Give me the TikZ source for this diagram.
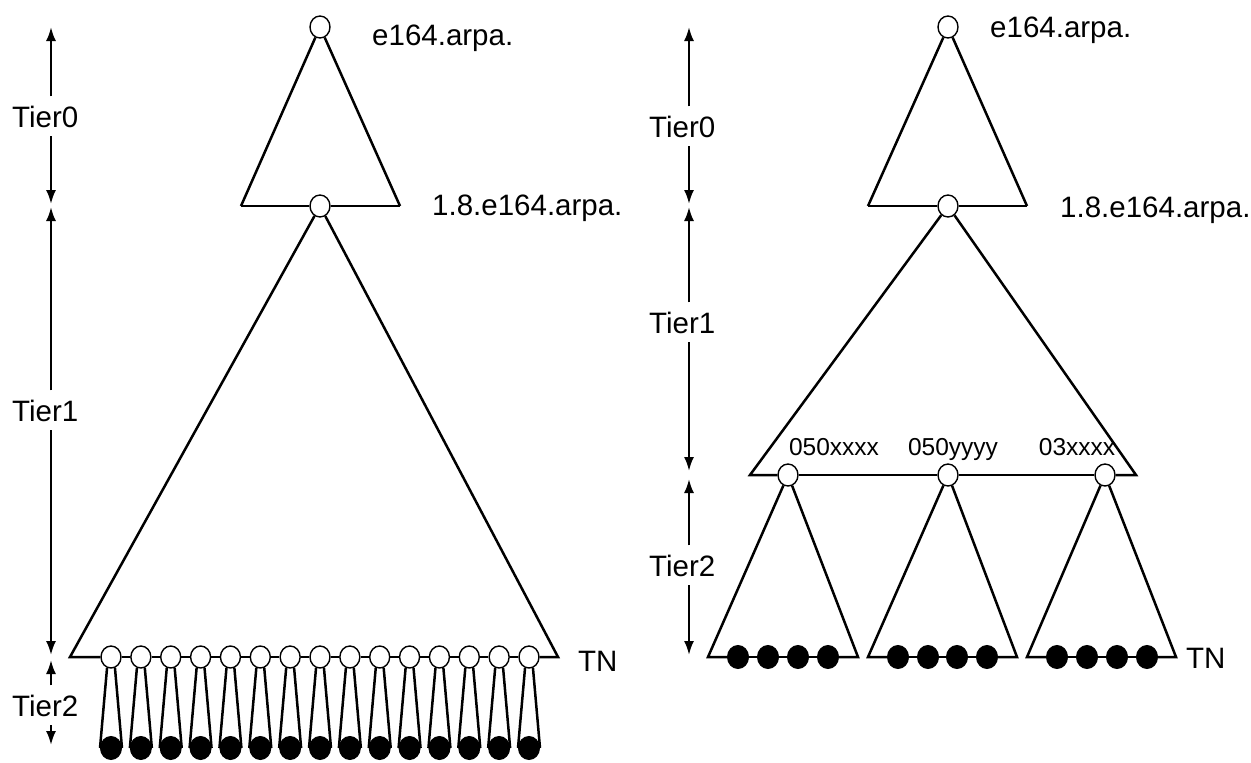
\documentclass[tikz,border=0pt]{standalone}
\usepackage{fontspec}
\setmainfont{Liberation Sans}
\usetikzlibrary{shapes.geometric,arrows.meta}
\begin{document}
\begin{tikzpicture}[x=1pt,y=-1pt,
  tri/.style={line width=2.5pt, line join=miter},
  onode/.style={ellipse, draw, line width=1.4pt, fill=white, minimum width=20pt, minimum height=22pt, inner sep=0pt},
  fnode/.style={ellipse, draw, line width=1pt, fill=black, minimum width=21pt, minimum height=23pt, inner sep=0pt},
  lbl/.style={inner sep=0pt, anchor=base west, font=\fontsize{29.5}{34}\selectfont},
  slbl/.style={inner sep=0pt, anchor=base, font=\fontsize{24.5}{28}\selectfont},
  tier/.style={inner sep=0pt, anchor=base west, font=\fontsize{29.5}{34}\selectfont},
  arr/.style={line width=2.2pt, -{Latex[length=14pt,width=10pt]}, shorten <=9pt},
]
\useasboundingbox (0,0) rectangle (1251,763);

% ================= LEFT TREE =================
\node[onode] (L0) at (320,27) {};
\node[onode] (L1) at (320,206) {};
\coordinate (L0bl) at (241,206);
\coordinate (L0br) at (400,206);
\draw[tri] (L0bl) -- (L0) -- (L0br);
\draw[tri] (L0bl) -- (L1) -- (L0br);

\foreach \i in {1,...,15} {
  \pgfmathsetmacro{\xx}{111+29.857*(\i-1)}
  \node[onode] (o\i) at (\xx,657) {};
  \node[fnode] (f\i) at (\xx,748) {};
  \draw[tri] (o\i.250) -- (f\i.west);
  \draw[tri] (o\i.290) -- (f\i.east);
}
\coordinate (L1bl) at (70,657);
\coordinate (L1br) at (558,657);
\draw[tri] (o1) -- (L1bl) -- (L1) -- (L1br) -- (o15);
\foreach \i [evaluate=\i as \j using int(\i+1)] in {1,...,14} {
  \draw[tri] (o\i) -- (o\j);
}

\node[lbl] (Le164) at (372,45) {e164.arpa.};
\node[lbl] (L18) at (432,215) {1.8.e164.arpa.};
\node[lbl] (LTN) at (578,671) {TN};

% left tier arrows
\node[tier] (LT0) at (12,127) {Tier0};
\node[tier] (LT1) at (12,421) {Tier1};
\node[tier] (LT2) at (12,716) {Tier2};
\coordinate (La0) at (51,27);
\coordinate (La1) at (51,204);
\coordinate (La2) at (51,207);
\coordinate (La3) at (51,655);
\coordinate (La4) at (51,660);
\coordinate (La5) at (51,745);
\draw[arr] (LT0.north -| La0) -- (La0);
\draw[arr] (LT0.south -| La1) -- (La1);
\draw[arr] (LT1.north -| La2) -- (La2);
\draw[arr] (LT1.south -| La3) -- (La3);
\draw[arr] (LT2.north -| La4) -- (La4);
\draw[arr] (LT2.south -| La5) -- (La5);

% ================= RIGHT TREE =================
\node[onode] (R0) at (948,27) {};
\node[onode] (R1) at (948,206) {};
\coordinate (R0bl) at (868,206);
\coordinate (R0br) at (1027,206);
\draw[tri] (R0bl) -- (R0) -- (R0br);
\draw[tri] (R0bl) -- (R1) -- (R0br);

\node[onode] (p1) at (788,475) {};
\node[onode] (p2) at (948,475) {};
\node[onode] (p3) at (1105,475) {};
\coordinate (R1bl) at (750,475);
\coordinate (R1br) at (1136,475);
\draw[tri] (p1) -- (R1bl) -- (R1) -- (R1br) -- (p3);
\draw[tri] (p1) -- (p2);
\draw[tri] (p2) -- (p3);

\node[slbl] (n1) at (834,455) {050xxxx};
\node[slbl] (n2) at (953,455) {050yyyy};
\node[slbl] (n3) at (1077,455) {03xxxx};

% tier2 subtrees
\foreach \k/\l/\r/\a/\b/\c/\d in {1/708/858/738/768/798/828, 2/868/1017/898/928/957/987, 3/1027/1176/1057/1087/1117/1147} {
  \coordinate (s\k l) at (\l,657);
  \coordinate (s\k r) at (\r,657);
  \node[fnode] (g\k a) at (\a,657) {};
  \node[fnode] (g\k b) at (\b,657) {};
  \node[fnode] (g\k c) at (\c,657) {};
  \node[fnode] (g\k d) at (\d,657) {};
  \draw[tri] (g\k a) -- (s\k l) -- (p\k) -- (s\k r) -- (g\k d);
  \draw[tri] (g\k a) -- (g\k b);
  \draw[tri] (g\k b) -- (g\k c);
  \draw[tri] (g\k c) -- (g\k d);
}

\node[lbl] (Re164) at (990,37) {e164.arpa.};
\node[lbl] (R18) at (1060,217) {1.8.e164.arpa.};
\node[lbl] (RTN) at (1186,668) {TN};

% right tier arrows
\node[tier] (RT0) at (649,137) {Tier0};
\node[tier] (RT1) at (649,333) {Tier1};
\node[tier] (RT2) at (649,576) {Tier2};
\coordinate (Ra0) at (689,27);
\coordinate (Ra1) at (689,204);
\coordinate (Ra2) at (689,207);
\coordinate (Ra3) at (689,471);
\coordinate (Ra4) at (689,479);
\coordinate (Ra5) at (689,655);
\draw[arr] (RT0.north -| Ra0) -- (Ra0);
\draw[arr] (RT0.south -| Ra1) -- (Ra1);
\draw[arr] (RT1.north -| Ra2) -- (Ra2);
\draw[arr] (RT1.south -| Ra3) -- (Ra3);
\draw[arr] (RT2.north -| Ra4) -- (Ra4);
\draw[arr] (RT2.south -| Ra5) -- (Ra5);
\end{tikzpicture}
\end{document}
